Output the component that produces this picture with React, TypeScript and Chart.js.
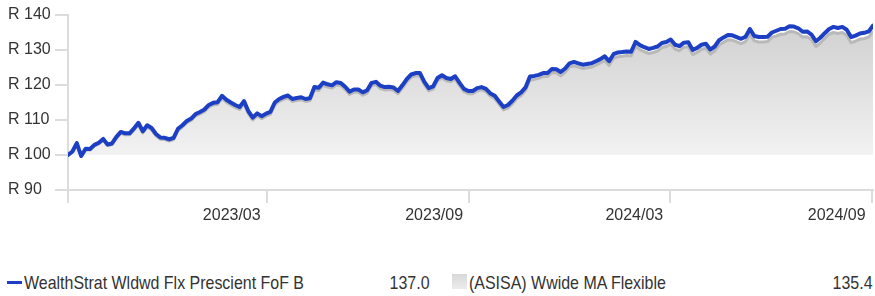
import { useEffect, useRef } from "react";
import { Chart, registerables } from "chart.js";

Chart.register(...registerables);

// Start of the series and sampling step (days)
const startDate = "2022-09-01";
const stepDays = 4;

const fundName = "WealthStrat Wldwd Flx Prescient FoF B";
const benchName = "(ASISA) Wwide MA Flexible";

const fundValues = [
  100.0, 101.0, 103.4, 99.7, 101.8, 101.7, 102.9, 103.5, 104.6, 103.0,
  103.3, 105.2, 106.6, 106.2, 106.2, 107.6, 109.2, 106.8, 108.5, 107.7,
  106.0, 105.0, 104.9, 104.5, 104.9, 107.5, 108.5, 109.7, 110.4, 111.7,
  112.3, 113.0, 114.3, 114.9, 115.1, 116.9, 115.8, 115.0, 114.3, 113.7,
  115.4, 112.5, 110.7, 111.9, 111.1, 111.8, 112.3, 115.0, 116.0, 116.6,
  117.0, 116.0, 116.3, 116.5, 116.0, 116.2, 119.4, 119.2, 120.7, 120.2,
  119.9, 120.8, 120.6, 119.5, 118.1, 118.7, 118.7, 117.9, 118.5, 120.6,
  120.9, 119.8, 119.4, 119.5, 119.3, 118.3, 119.9, 121.7, 123.0, 123.4,
  123.4, 120.9, 119.1, 119.6, 122.0, 122.8, 122.0, 121.7, 122.5, 120.6,
  118.9, 118.3, 118.3, 119.1, 119.4, 118.9, 117.6, 116.9, 115.3, 113.7,
  114.3, 115.5, 117.0, 117.9, 119.3, 122.4, 122.6, 122.9, 123.4, 123.4,
  124.6, 124.5, 123.7, 124.7, 126.2, 126.6, 126.2, 125.8, 126.0, 126.2,
  126.8, 127.4, 128.2, 126.8, 128.8, 129.3, 129.4, 129.6, 129.5, 132.3,
  131.4, 130.8, 130.3, 130.6, 131.0, 132.0, 132.3, 133.0, 131.5, 131.1,
  132.1, 132.2, 130.0, 130.6, 131.5, 131.8, 130.1, 131.0, 132.8, 133.6,
  134.3, 134.2, 133.7, 133.2, 133.8, 136.0, 134.0, 133.7, 133.7, 133.8,
  135.0, 135.5, 136.0, 136.1, 136.8, 136.7, 136.2, 135.2, 135.3, 134.4,
  132.5, 133.5, 134.8, 136.0, 136.6, 136.3, 136.6, 135.8, 133.7, 134.1,
  134.7, 134.9, 135.3, 137.0,
];

const benchValues = [
  100.0, 100.8, 103.0, 99.6, 101.5, 101.4, 102.6, 103.2, 104.2, 102.7,
  103.0, 104.8, 106.2, 105.8, 105.8, 107.1, 108.7, 106.3, 108.0, 107.2,
  105.5, 104.5, 104.4, 104.0, 104.4, 107.0, 108.0, 109.2, 109.9, 111.2,
  111.7, 112.4, 113.7, 114.3, 114.5, 116.2, 115.1, 114.3, 113.6, 113.0,
  114.7, 111.8, 110.0, 111.2, 110.4, 111.1, 111.6, 114.3, 115.3, 115.9,
  116.3, 115.3, 115.6, 115.8, 115.3, 115.5, 118.6, 118.4, 119.9, 119.4,
  119.1, 120.0, 119.8, 118.7, 117.3, 117.9, 117.9, 117.1, 117.7, 119.8,
  120.1, 119.0, 118.6, 118.7, 118.5, 117.5, 119.1, 120.9, 122.2, 122.6,
  122.6, 120.1, 118.3, 118.8, 121.2, 122.0, 121.2, 120.9, 121.7, 119.8,
  118.1, 117.5, 117.5, 118.3, 118.6, 118.1, 116.8, 116.1, 114.5, 112.9,
  113.4, 114.6, 116.1, 117.0, 118.4, 121.4, 121.6, 121.9, 122.4, 122.4,
  123.6, 123.5, 122.6, 123.6, 125.1, 125.5, 125.1, 124.7, 124.9, 125.1,
  125.7, 126.3, 127.0, 125.6, 127.6, 128.1, 128.2, 128.4, 128.3, 131.0,
  130.1, 129.5, 129.0, 129.3, 129.7, 130.7, 131.0, 131.7, 130.2, 129.8,
  130.8, 130.9, 128.7, 129.3, 130.2, 130.5, 128.8, 129.7, 131.4, 132.2,
  132.9, 132.8, 132.3, 131.8, 132.4, 134.5, 132.6, 132.3, 132.3, 132.4,
  133.6, 134.0, 134.5, 134.6, 135.3, 135.2, 134.7, 133.7, 133.8, 132.9,
  131.0, 132.0, 133.3, 134.5, 135.0, 134.7, 135.0, 134.2, 132.1, 132.5,
  133.1, 133.3, 133.7, 135.4,
];

// x ticks: days since start date
const xTickDays = [0, 181, 365, 547, 731];
const xTickLabels = ["", "2023/03", "2023/09", "2024/03", "2024/09"];
const yTicks = [90, 100, 110, 120, 130, 140];
const baseValue = 100;

const FONT = "'Liberation Sans', Arial, sans-serif";
const TEXT = "#333333";
const AXIS = "#dcdcdc";
const FUND_COLOR = "#1c3fc4";

export default function App() {
  const ref = useRef<HTMLCanvasElement | null>(null);

  useEffect(() => {
    if (!ref.current) return;
    const fundData = fundValues.map((v, i) => ({ x: i * stepDays, y: v }));
    const benchData = benchValues.map((v, i) => ({ x: i * stepDays, y: v }));
    const chart = new Chart(ref.current, {
      type: "line",
      data: {
        datasets: [
          {
            label: fundName,
            data: fundData,
            borderColor: FUND_COLOR,
            borderWidth: 4,
            borderJoinStyle: "round",
            borderCapStyle: "round",
            pointRadius: 0,
            tension: 0,
            fill: false,
          },
          {
            label: benchName,
            data: benchData,
            borderColor: "#b9b9b9",
            borderWidth: 3,
            borderJoinStyle: "round",
            pointRadius: 0,
            tension: 0,
            fill: { value: baseValue },
            backgroundColor: (c: any) => {
              const ch = c.chart;
              const area = ch.chartArea;
              if (!area) return "#dddddd";
              const y0 = ch.scales.y.getPixelForValue(baseValue);
              const g = ch.ctx.createLinearGradient(0, area.top, 0, y0);
              g.addColorStop(0, "#cecece");
              g.addColorStop(1, "#f2f2f2");
              return g;
            },
          },
        ],
      },
      options: {
        animation: false,
        responsive: false,
        devicePixelRatio: 1,
        layout: { padding: { left: 8, top: 15, right: 0, bottom: 0 } },
        plugins: { legend: { display: false }, tooltip: { enabled: false } },
        scales: {
          x: {
            type: "linear",
            min: 0,
            max: (fundValues.length - 1) * stepDays,
            afterBuildTicks: (s: any) => {
              s.ticks = xTickDays.map((v) => ({ value: v }));
            },
            afterFit: (s: any) => {
              s.height = 40;
            },
            ticks: {
              autoSkip: false,
              maxRotation: 0,
              align: "end",
              padding: 3,
              color: TEXT,
              font: { family: FONT, size: 16 },
              callback: (v: any) => {
                const idx = xTickDays.indexOf(Number(v));
                return idx >= 0 && xTickLabels[idx] ? xTickLabels[idx] + "\u2009\u2009" : "";
              },
            },
            grid: {
              drawOnChartArea: false,
              drawTicks: true,
              tickLength: 13,
              color: AXIS,
              lineWidth: 2,
            },
            border: { display: true, color: AXIS, width: 2 },
          },
          y: {
            min: 90,
            max: 140,
            afterBuildTicks: (s: any) => {
              s.ticks = yTicks.map((v) => ({ value: v }));
            },
            afterFit: (s: any) => {
              s.width = 60;
            },
            ticks: {
              crossAlign: "far",
              color: TEXT,
              font: { family: FONT, size: 16 },
              callback: (v: any) => "R " + v,
            },
            grid: {
              drawOnChartArea: false,
              drawTicks: true,
              tickLength: 13,
              color: AXIS,
              lineWidth: 2,
            },
            border: { display: true, color: AXIS, width: 2 },
          },
        },
      },
    });
    return () => chart.destroy();
  }, []);

  const legendText: React.CSSProperties = {
    position: "absolute",
    top: 273,
    fontFamily: FONT,
    fontSize: 19,
    lineHeight: "20px",
    color: TEXT,
    whiteSpace: "nowrap",
    transform: "scaleX(0.84)",
    transformOrigin: "left center",
  };
  const legendValue: React.CSSProperties = {
    ...legendText,
    textAlign: "right",
    transformOrigin: "right center",
  };

  return (
    <div style={{ position: "absolute", left: 0, top: 0, width: 875, height: 296, background: "#fff" }}>
      <canvas ref={ref} width={875} height={230} style={{ display: "block", width: 875, height: 230 }} />
      <div style={{ position: "absolute", left: 7, top: 281, width: 15, height: 3, background: FUND_COLOR }} />
      <div style={{ ...legendText, left: 24 }}>{fundName}</div>
      <div style={{ ...legendValue, right: 875 - 430 }}>
        {fundValues[fundValues.length - 1].toFixed(1)}
      </div>
      <div
        style={{
          position: "absolute",
          left: 452,
          top: 274,
          width: 15,
          height: 15,
          background: "linear-gradient(#d8d8d8, #ececec)",
        }}
      />
      <div style={{ ...legendText, left: 469 }}>{benchName}</div>
      <div style={{ ...legendValue, right: 2 }}>
        {benchValues[benchValues.length - 1].toFixed(1)}
      </div>
    </div>
  );
}
